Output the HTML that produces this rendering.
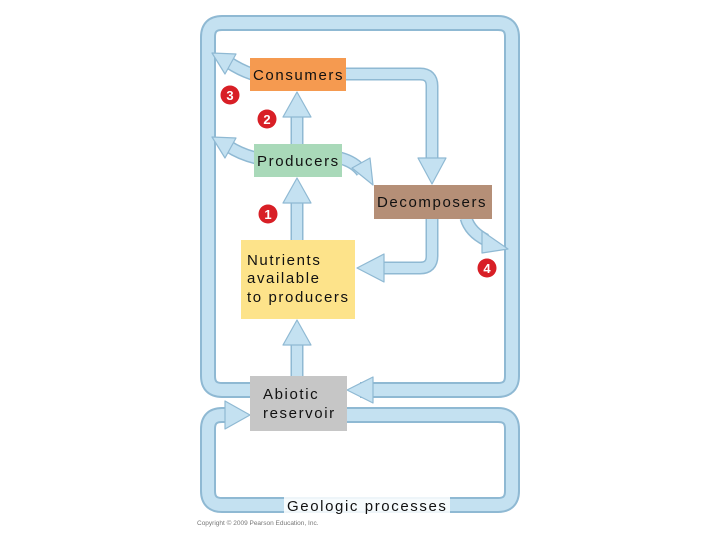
<!DOCTYPE html>
<html><head><meta charset="utf-8"><style>
html,body{margin:0;padding:0;background:#fff;width:720px;height:540px;overflow:hidden}
svg{display:block}
text{font-family:"Liberation Sans",sans-serif;fill:#111;letter-spacing:1.6px}
</style></head><body>
<svg width="720" height="540" viewBox="0 0 720 540">
<g fill="none" stroke-linejoin="round">
  <path d="M260 390 H222 Q208 390 208 376 V37 Q208 23 222 23 H498 Q512 23 512 37 V376 Q512 390 498 390 H360" stroke="#8fb9d3" stroke-width="16"/>
  <path d="M260 390 H222 Q208 390 208 376 V37 Q208 23 222 23 H498 Q512 23 512 37 V376 Q512 390 498 390 H360" stroke="#c4e1f1" stroke-width="12"/>
  <path d="M340 415 H498 Q512 415 512 429 V491 Q512 505 498 505 H222 Q208 505 208 491 V429 Q208 415 222 415 H236" stroke="#8fb9d3" stroke-width="16"/>
  <path d="M340 415 H498 Q512 415 512 429 V491 Q512 505 498 505 H222 Q208 505 208 491 V429 Q208 415 222 415 H236" stroke="#c4e1f1" stroke-width="12"/>
  <g stroke="#8fb9d3" stroke-width="13">
    <path d="M297 242 V200"/><path d="M297 146 V114"/><path d="M297 378 V342"/>
    <path d="M345 74 H420 Q432 74 432 86 V160"/>
    <path d="M432 218 V256 Q432 268 420 268 H382"/>
    <path d="M252 74 Q240 70 228 62"/>
    <path d="M256 158 Q240 154 228 146"/>
    <path d="M340 158 Q355 162 362 172"/>
    <path d="M466 218 Q470 232 486 240"/>
  </g>
  <g stroke="#c4e1f1" stroke-width="10">
    <path d="M297 242 V200"/><path d="M297 146 V114"/><path d="M297 378 V342"/>
    <path d="M345 74 H420 Q432 74 432 86 V160"/>
    <path d="M432 218 V256 Q432 268 420 268 H382"/>
    <path d="M252 74 Q240 70 228 62"/>
    <path d="M256 158 Q240 154 228 146"/>
    <path d="M340 158 Q355 162 362 172"/>
    <path d="M466 218 Q470 232 486 240"/>
  </g>
</g>
<g fill="#c4e1f1" stroke="#8fb9d3" stroke-width="1.2" stroke-linejoin="round">
  <polygon points="283,203 297,178 311,203"/>
  <polygon points="283,117 297,92 311,117"/>
  <polygon points="283,345 297,320 311,345"/>
  <polygon points="418,158 432,184 446,158"/>
  <polygon points="384,254 357,268 384,282"/>
  <polygon points="373,377 347,390 373,403"/>
  <polygon points="225,401 250,415 225,429"/>
  <polygon points="236,54 212,53 225,74"/>
  <polygon points="236,138 212,137 225,158"/>
  <polygon points="352,168 373,185 370,158"/>
  <polygon points="482,231 508,249 482,253"/>
</g>
<rect x="250" y="58" width="96" height="33" fill="#f59a50"/>
<text x="253" y="80" font-size="15">Consumers</text>
<rect x="254" y="144" width="88" height="33" fill="#a9d9b9"/>
<text x="257" y="166" font-size="15">Producers</text>
<rect x="374" y="185" width="118" height="34" fill="#b58f77"/>
<text x="377" y="207" font-size="15">Decomposers</text>
<rect x="241" y="240" width="114" height="79" fill="#fde38a"/>
<text font-size="15"><tspan x="247" y="265">Nutrients</tspan><tspan x="247" y="283">available</tspan><tspan x="247" y="302">to producers</tspan></text>
<rect x="250" y="376" width="97" height="55" fill="#c6c6c6"/>
<text font-size="15"><tspan x="263" y="399">Abiotic</tspan><tspan x="263" y="418">reservoir</tspan></text>
<rect x="284" y="497" width="166" height="16" fill="#fff" opacity="0.85"/>
<text x="287" y="511" font-size="15">Geologic processes</text>
<text x="197" y="525" font-size="6.5" style="fill:#777;letter-spacing:0">Copyright © 2009 Pearson Education, Inc.</text>
<g fill="#d81f26">
  <circle cx="230" cy="95" r="9.5"/><circle cx="267" cy="119" r="9.5"/>
  <circle cx="268" cy="214" r="9.5"/><circle cx="487" cy="268" r="9.5"/>
</g>
<g font-size="13" font-weight="bold" text-anchor="middle">
  <text x="230" y="100" style="fill:#fff;letter-spacing:0">3</text>
  <text x="267" y="124" style="fill:#fff;letter-spacing:0">2</text>
  <text x="268" y="219" style="fill:#fff;letter-spacing:0">1</text>
  <text x="487" y="273" style="fill:#fff;letter-spacing:0">4</text>
</g>
</svg>
</body></html>
